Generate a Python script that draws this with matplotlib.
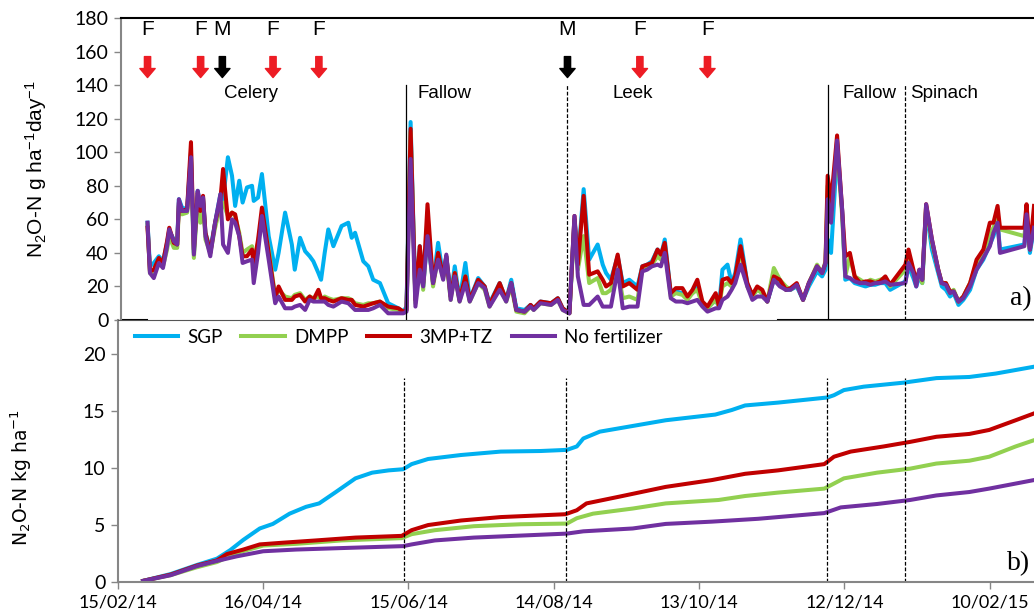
import numpy as np
import pandas as pd
import matplotlib
matplotlib.use('Agg')
import matplotlib.pyplot as plt
import matplotlib.dates as mdates

plt.rcParams['font.family'] = ['Lato', 'DejaVu Sans']
plt.rcParams['mathtext.default'] = 'regular'

start = pd.Timestamp('2014-02-15')
end = pd.Timestamp('2015-02-28 07:00')

# daily N2O fluxes (days after 15/02/14)
flux_days = [11, 12, 13.6, 15.7, 17.4, 19.1, 20, 21.9, 23.3, 24, 25.3, 27.4, 29, 30.2, 31.8, 32.9, 34, 35, 37, 39,
             41.2, 42.3, 44.3, 46, 47.3, 49, 50.4, 52.2, 54.3, 55, 56.8, 58.4, 61.2, 63.9, 65.3, 68, 70.8, 72, 74.2,
             76.3, 78.2, 79.7, 81.8, 82.9, 84.4, 85.9, 88, 91.4, 94.2, 95.6, 97, 100.4, 102.5, 104.5, 107.3, 110.7,
             114.9, 117, 118.3, 120, 122, 123.8, 125.2, 127, 129.3, 131.4, 133.5, 134.8, 136.6, 138.3, 140.3, 142.7,
             144.5, 148, 150.7, 152.7, 156.9, 159.6, 161.7, 163.8, 167.2, 169.7, 171, 173.8, 178.2, 181, 183, 185.8,
             187.9, 189.3, 191.7, 194, 197.5, 199.6, 201, 203, 205.8, 207.9, 210.6, 214, 216, 218, 220, 222.3, 223.7,
             225.3, 227.8, 229.9, 232.6, 234.7, 236.8, 238.8, 240.9, 243, 246.4, 247.8, 249.2, 251.3, 253, 254.5,
             256.7, 259.5, 261.6, 263.6, 265.7, 267.8, 270.5, 273, 275.5, 277.4, 280, 282.6, 285, 288.4, 290.5,
             291.9, 292.8, 294.2, 296.7, 298.8, 300.1, 302, 304, 306.3, 308.5, 310.5, 312.5, 314.5, 316.7, 318.7,
             325, 326.3, 328.3, 329.5, 330.8, 332, 333.6, 336, 338.6, 340.1, 341.8, 343.5, 345, 347, 349, 351.8,
             354.5, 357.3, 360, 361.5, 363.2, 364.2, 374.3, 375.2, 376.6, 378.3]
flux_sgp = [58, 32, 34, 38, 35, 46, 53, 48, 47, 72, 67, 66, 100, 40, 77, 66, 73, 52, 42, 58,
            75, 72, 97, 86, 68, 83, 70, 79, 80, 71, 73, 87, 50, 30, 40, 64, 45, 30, 49,
            41, 38, 35, 28, 24, 40, 54, 44, 56, 58, 49, 52, 35, 32, 24, 22, 10,
            7, 5, 8, 118, 12, 44, 20, 50, 22, 46, 26, 38, 14, 32, 12, 34,
            12, 25, 20, 10, 22, 12, 24, 7, 6, 9, 7, 11, 10, 13, 7, 4,
            60, 35, 78, 36, 45, 33, 28, 24, 38, 22, 24, 20, 32, 33, 35, 42, 38,
            48, 16, 17, 16, 14, 16, 20, 10, 7, 12, 8, 30, 33, 22, 28,
            48, 22, 14, 19, 16, 11, 24, 22, 18, 18, 20, 12, 20, 29, 26,
            30, 48, 40, 100, 65, 24, 25, 22, 21, 20, 21, 21, 22, 22, 18,
            23, 32, 25, 20, 26, 22, 66, 42, 28, 20, 18, 14, 16, 9, 12, 18,
            30, 36, 45, 50, 58, 42, 45, 60, 40, 55]
flux_dmpp = [57, 28, 27, 35, 32, 42, 50, 43, 43, 68, 63, 64, 95, 37, 72, 58, 70, 48, 40, 55,
             68, 70, 62, 64, 62, 52, 40, 42, 44, 34, 46, 62, 42, 14, 18, 14, 13, 15, 16,
             12, 14, 13, 14, 12, 14, 13, 12, 13, 13, 12, 10, 9, 10, 10, 11, 7,
             6, 5, 6, 112, 10, 40, 18, 55, 20, 38, 25, 36, 12, 28, 11, 26,
             11, 22, 18, 8, 20, 11, 20, 5, 4, 8, 6, 10, 9, 12, 6, 4,
             58, 30, 50, 22, 25, 16, 16, 18, 30, 13, 14, 12, 31, 32, 33, 38, 36,
             44, 14, 16, 15, 12, 16, 18, 9, 7, 12, 8, 20, 22, 20, 24,
             42, 20, 14, 18, 16, 11, 31, 24, 20, 18, 21, 12, 22, 33, 28,
             35, 80, 60, 105, 62, 26, 38, 26, 24, 22, 24, 23, 24, 25, 20,
             30, 38, 28, 22, 28, 22, 68, 46, 30, 22, 22, 16, 18, 11, 14, 22,
             34, 40, 52, 55, 62, 54, 50, 62, 42, 60]
flux_3mp = [55, 29, 30, 37, 34, 47, 55, 46, 45, 70, 65, 66, 106, 42, 76, 65, 74, 52, 40, 58,
            72, 90, 60, 64, 63, 50, 38, 38, 42, 32, 48, 67, 40, 13, 20, 12, 12, 14, 15,
            11, 14, 12, 18, 13, 13, 12, 11, 13, 12, 12, 9, 8, 9, 10, 11, 8,
            7, 5, 6, 114, 12, 44, 22, 69, 22, 40, 26, 38, 14, 28, 12, 26,
            12, 24, 20, 9, 22, 12, 22, 6, 5, 9, 7, 11, 10, 13, 7, 4,
            62, 33, 74, 27, 29, 24, 20, 22, 39, 20, 22, 18, 32, 33, 34, 42, 39,
            46, 16, 19, 19, 14, 18, 24, 11, 8, 16, 8, 24, 25, 22, 26,
            44, 22, 15, 20, 18, 11, 26, 24, 18, 19, 22, 12, 22, 32, 28,
            34, 86, 70, 110, 66, 38, 40, 26, 22, 23, 23, 22, 23, 26, 21,
            33, 42, 30, 23, 30, 24, 69, 48, 30, 22, 22, 17, 17, 11, 14, 22,
            36, 42, 58, 58, 68, 55, 55, 69, 42, 68]
flux_nofert = [58, 28, 25, 34, 31, 44, 54, 47, 45, 72, 65, 65, 97, 39, 77, 68, 73, 50, 38, 58,
               75, 45, 40, 60, 58, 50, 34, 35, 36, 22, 40, 62, 36, 10, 14, 7, 7, 8, 9,
               6, 12, 11, 11, 11, 11, 9, 8, 11, 10, 8, 6, 6, 6, 7, 9, 4,
               4, 4, 5, 96, 8, 30, 20, 50, 22, 36, 24, 39, 12, 26, 11, 22,
               11, 22, 19, 8, 18, 11, 22, 6, 5, 8, 6, 10, 9, 12, 6, 4,
               62, 26, 9, 9, 14, 8, 8, 8, 30, 7, 8, 8, 29, 30, 32, 33, 32,
               40, 13, 11, 11, 10, 11, 12, 8, 5, 7, 7, 12, 14, 18, 22,
               33, 20, 12, 14, 14, 11, 24, 20, 18, 18, 21, 12, 22, 32, 28,
               34, 72, 58, 107, 66, 26, 25, 23, 22, 22, 21, 22, 22, 23, 21,
               22, 34, 28, 20, 30, 24, 69, 48, 30, 22, 21, 16, 17, 11, 13, 20,
               30, 37, 44, 52, 58, 40, 44, 63, 42, 55]

# cumulative emissions
cum_sgp_days = [10.4, 21.8, 32.7, 40.9, 46.4, 51.8, 58.6, 64, 70.9, 77.7, 83.1, 90, 98.1, 105, 111.8, 117.8, 121.3,
                128.1, 141.7, 158.1, 174.5, 185.4, 189.5, 192.2, 199, 209.9, 226.2, 246.7, 253.5, 259, 272.6, 293,
                295.7, 299.8, 308, 324.4, 338, 351.6, 362.5, 378.3]
cum_sgp = [0.1, 0.7, 1.5, 2.05, 2.8, 3.7, 4.7, 5.1, 6.0, 6.6, 6.9, 7.9, 9.1, 9.6, 9.8, 9.9, 10.35,
           10.8, 11.15, 11.45, 11.5, 11.6, 11.9, 12.6, 13.2, 13.6, 14.2, 14.7, 15.1, 15.5, 15.75, 16.2,
           16.4, 16.85, 17.15, 17.5, 17.9, 18.0, 18.3, 18.9]
cum_3mp_days = [10.4, 21.8, 32.7, 40.9, 45, 51.8, 58.6, 68.1, 81.8, 98.1, 117.2, 121.3, 128.1, 141.7, 158.1, 184.8,
                189.5, 193.5, 207.2, 226.2, 245.3, 259, 272.6, 291.7, 295.7, 302.6, 316.2, 327.1, 338, 351.6,
                359.8, 370.7, 378.3]
cum_3mp = [0.1, 0.65, 1.45, 1.9, 2.45, 2.85, 3.3, 3.45, 3.65, 3.9, 4.05, 4.55, 5.0, 5.4, 5.7, 5.95,
           6.3, 6.9, 7.5, 8.35, 8.95, 9.5, 9.8, 10.35, 11.0, 11.45, 11.9, 12.3, 12.75, 13.0,
           13.35, 14.2, 14.8]
cum_dmpp_days = [10.4, 21.8, 32.7, 40.9, 49, 60, 73.6, 92.4, 117.2, 121.3, 130.9, 147, 166.3, 185.4, 189.5, 196.2,
                 212.6, 226.2, 248, 259, 272.6, 291.7, 299.8, 313.5, 327.1, 338, 351.6, 359.8, 370.7, 378.3]
cum_dmpp = [0.1, 0.6, 1.3, 1.75, 2.55, 3.2, 3.35, 3.65, 3.85, 4.2, 4.55, 4.9, 5.07, 5.13, 5.6, 6.0,
            6.45, 6.9, 7.2, 7.55, 7.85, 8.2, 9.1, 9.6, 9.95, 10.4, 10.65, 11.0, 11.9, 12.45]
cum_nofert_days = [10.4, 21.8, 32.7, 40.9, 49, 60, 73.6, 95.4, 117.8, 121.3, 130.9, 147, 169, 185.4, 192.2, 212.6,
                   226.2, 245.3, 264.4, 291.7, 298.5, 313.5, 327.1, 338, 351.6, 359.8, 378.3]
cum_nofert = [0.1, 0.6, 1.4, 1.85, 2.25, 2.7, 2.85, 3.0, 3.15, 3.3, 3.65, 3.9, 4.1, 4.25, 4.45, 4.7,
              5.1, 5.3, 5.55, 6.05, 6.55, 6.85, 7.2, 7.6, 7.9, 8.2, 8.95]

series_names = ['SGP', 'DMPP', '3MP+TZ', 'No fertilizer']
colors = ['#00B0F0', '#92D050', '#C00000', '#7030A0']

# management events
event_dates = ['2014-02-26', '2014-03-20', '2014-03-29', '2014-04-19', '2014-05-08',
               '2014-08-19', '2014-09-18', '2014-10-16']
event_labels = ['F', 'F', 'M', 'F', 'F', 'M', 'F', 'F']
period_dates = ['2014-06-13', '2014-08-19', '2014-12-05', '2015-01-06']
crop_names = ['Celery', 'Fallow', 'Leek', 'Fallow', 'Spinach']
crop_dates = ['2014-04-10', '2014-06-18', '2014-09-15', '2014-12-11', '2015-01-08']
crop_ha = ['center', 'left', 'center', 'left', 'left']


def to_dates(days):
    return start + pd.to_timedelta(np.array(days) * 24, unit='h')


fig = plt.figure(figsize=(10.34, 6.14), dpi=100)
ax1 = fig.add_axes([0.117, 0.4788, 0.883, 0.4919])
ax2 = fig.add_axes([0.114, 0.0521, 0.886, 0.4267])

gray = '#868686'

# ---- a) daily fluxes
for vals, c in zip([flux_sgp, flux_dmpp, flux_3mp, flux_nofert], colors):
    ax1.plot(to_dates(flux_days), vals, color=c, lw=2.9, solid_joinstyle='round')

ax1.set_ylim(0, 180)
ax1.set_yticks(range(0, 181, 20))
ax1.set_xlim(start, end)
ax1.set_xticks([])
ax1.spines['right'].set_visible(False)
ax1.spines['bottom'].set_visible(False)
ax1.spines['left'].set_color(gray)
ax1.spines['left'].set_linewidth(1.5)
ax1.spines['top'].set_color('black')
ax1.spines['top'].set_linewidth(1.5)
ax1.tick_params(axis='y', direction='out', length=5, width=1, color=gray, labelsize=14, pad=4)
ax1.axhline(0, xmin=0, xmax=0.028, color='black', lw=1.5, clip_on=False)
ax1.axhline(0, xmin=0.72, xmax=1, color='black', lw=1.5, clip_on=False)
ax1.set_ylabel('N$_2$O-N g ha$^{-1}$day$^{-1}$', fontsize=15, family='Liberation Sans', labelpad=18)

styles = ['-', (0, (3, 1.5)), '-', (0, (3, 1.5))]
for d, ls in zip(period_dates, styles):
    ax1.plot([pd.Timestamp(d)] * 2, [0, 140], color='black', lw=0.9, ls=ls)

for d, lab in zip(event_dates, event_labels):
    c = '#ED1C24' if lab == 'F' else 'black'
    x = pd.Timestamp(d)
    ax1.text(x, 173, lab, ha='center', va='center', fontsize=15, family='Liberation Sans')
    ax1.annotate('', xy=(x, 144.5), xytext=(x, 157),
                 arrowprops=dict(facecolor=c, edgecolor=c, width=4.5, headwidth=11, headlength=6.5))

for name, d, ha in zip(crop_names, crop_dates, crop_ha):
    ax1.text(pd.Timestamp(d), 135, name, ha=ha, va='center', fontsize=13.5, family='Liberation Sans')

ax1.text(pd.Timestamp('2015-02-23'), 13, 'a)', ha='center', va='center', fontsize=20, family='Liberation Serif')

# ---- b) cumulative
cum_sets = [(cum_sgp_days, cum_sgp), (cum_dmpp_days, cum_dmpp), (cum_3mp_days, cum_3mp), (cum_nofert_days, cum_nofert)]
for (dd, vv), c, n in zip(cum_sets, colors, series_names):
    ax2.plot(to_dates(dd), vv, color=c, lw=2.9, label=n)

ax2.set_ylim(0, 23)
ax2.set_yticks(range(0, 21, 5))
ax2.set_xlim(start, end)
ticks = pd.date_range(start, periods=7, freq='60D')
ax2.set_xticks(ticks)
ax2.xaxis.set_major_formatter(mdates.DateFormatter('%d/%m/%y'))
ax2.spines['right'].set_visible(False)
ax2.spines['top'].set_color('#555555')
ax2.spines['top'].set_linewidth(0.8)
for s in ['left', 'bottom']:
    ax2.spines[s].set_color(gray)
    ax2.spines[s].set_linewidth(1.5)
ax2.tick_params(axis='y', direction='out', length=5, width=1, color=gray, labelsize=14, pad=4)
ax2.tick_params(axis='x', direction='out', length=5, width=1, color=gray, labelsize=13, pad=4)
ax2.set_ylabel('N$_2$O-N kg ha$^{-1}$', fontsize=13.5, family='DejaVu Sans')
ax2.yaxis.set_label_coords(-0.092, 0.40)

for d in period_dates:
    ax2.plot([pd.Timestamp(d)] * 2, [0, 17.9], color='black', lw=0.9, ls=(0, (3, 1.5)))

ax2.legend(loc='upper left', ncol=4, frameon=False, fontsize=13.5, handlelength=2.3,
           columnspacing=1.0, handletextpad=0.5, bbox_to_anchor=(0.0, 1.03))
ax2.text(pd.Timestamp('2015-02-22'), 1.6, 'b)', ha='center', va='center', fontsize=20, family='Liberation Serif')

fig.savefig('out.png', dpi=100)
